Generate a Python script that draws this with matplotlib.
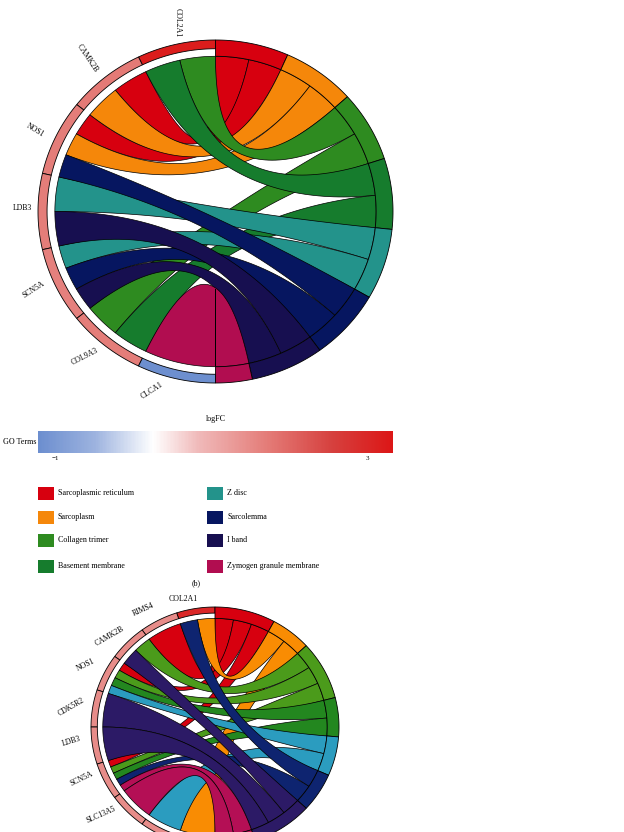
import numpy as np
import matplotlib
matplotlib.use("Agg")
import matplotlib.pyplot as plt
from matplotlib.patches import Polygon, Rectangle
from matplotlib.colors import LinearSegmentedColormap, Normalize
from matplotlib.cm import ScalarMappable

plt.rcParams['font.family'] = ['Liberation Serif', 'DejaVu Serif']

# ---- panel (b) data ----
genes_b = ['COL2A1', 'CAMK2B', 'NOS1', 'LDB3', 'SCN5A', 'COL9A3', 'CLCA1']
logfc_b = [3.2, 1.75, 1.7, 1.7, 1.65, 1.7, -1.2]
terms_b = ['Sarcoplasmic reticulum', 'Sarcoplasm', 'Collagen trimer', 'Basement membrane',
           'Z disc', 'Sarcolemma', 'I band', 'Zymogen granule membrane']
term_colors_b = ['#D7000F', '#F5870A', '#2E8B20', '#167C2D', '#23938B', '#061660', '#170F50', '#B10D50']
gene_terms_b = {
    'COL2A1': ['Collagen trimer', 'Basement membrane'],
    'CAMK2B': ['Sarcoplasmic reticulum', 'Sarcoplasm'],
    'NOS1': ['Sarcoplasmic reticulum', 'Sarcoplasm', 'Sarcolemma'],
    'LDB3': ['Z disc', 'I band'],
    'SCN5A': ['Z disc', 'Sarcolemma', 'I band'],
    'COL9A3': ['Collagen trimer', 'Basement membrane'],
    'CLCA1': ['Zymogen granule membrane'],
}

# ---- panel (c) data (lower chord, cut off at the page edge) ----
genes_c = ['COL2A1', 'RIMS4', 'CAMK2B', 'NOS1', 'CDK5R2', 'LDB3', 'SCN5A', 'SLC13A5', 'COL9A3', 'MYL4']
logfc_c = [3.0, 1.5, 1.5, 1.5, 1.5, 1.5, 1.5, 1.5, 1.5, 1.5]
terms_c = ['GO1', 'GO2', 'GO3', 'GO4', 'GO5', 'GO6', 'GO7', 'GO8']
term_colors_c = ['#D7000F', '#F98C03', '#4B9B1B', '#23871F', '#2B9CBF', '#0E2470', '#2C1A66', '#B40F55']
gene_terms_c = {
    'COL2A1': ['GO2', 'GO6'],
    'RIMS4': ['GO1'],
    'CAMK2B': ['GO3', 'GO7'],
    'NOS1': ['GO1', 'GO3', 'GO4', 'GO5'],
    'CDK5R2': ['GO7'],
    'LDB3': ['GO7'],
    'SCN5A': ['GO1', 'GO3', 'GO4', 'GO6', 'GO8'],
    'SLC13A5': ['GO8'],
    'COL9A3': ['GO5'],
    'MYL4': ['GO2'],
}

# logFC colour scale
lfc_min, lfc_max = -1.218, 3.333
cmap = LinearSegmentedColormap.from_list('lfc', [
    (0.0, '#6C8ECF'), (0.16, '#9DB3DF'), (0.324, '#FFFFFF'), (0.45, '#F0BABA'),
    (0.645, '#E47C78'), (0.83, '#D6403E'), (1.0, '#DC1616')])
norm = Normalize(lfc_min, lfc_max)

R_LINK = 0.905
R_RING = 0.949


def polar(theta, r):
    t = np.radians(theta)
    return np.column_stack([r * np.cos(t), r * np.sin(t)])


def arc(t0, t1, r, n=50):
    return polar(np.linspace(t0, t1, n), r)


def bezier(p0, p2, n=60):
    # quadratic curve with the control point at the centre
    t = np.linspace(0, 1, n)[:, None]
    return (1 - t) ** 2 * p0 + t ** 2 * p2


def wedge(ax, t0, t1, r0, r1, color):
    pts = np.vstack([arc(t0, t1, r1), arc(t1, t0, r0)])
    ax.add_patch(Polygon(pts, closed=True, facecolor=color, edgecolor='black', lw=0.6))


def draw_chord(ax, genes, logfc, terms, term_colors, gene_terms,
               lab_ang, lab_rad, lab_rot, fs=5.6):
    n_g = len(genes)
    G = 180.0 / n_g
    term_genes = {t: [g for g in genes if t in gene_terms[g]] for t in terms}
    total = sum(len(v) for v in term_genes.values())
    U = 180.0 / total

    term_top = {}
    cum = 0
    for t in terms:
        term_top[t] = 90 - cum * U
        cum += len(term_genes[t])

    # ribbons, drawn term by term
    for j, t in enumerate(terms):
        for k, g in enumerate(term_genes[t]):
            i = genes.index(g)
            gt = [x for x in terms if x in gene_terms[g]]
            m = len(gt)
            s = gt.index(t)
            a_up = 90 + i * G + s * G / m
            a_lo = a_up + G / m
            b_up = term_top[t] - k * U
            b_lo = b_up - U
            pa_lo = polar(a_lo, R_LINK)[0]
            pb_lo = polar(b_lo, R_LINK)[0]
            pb_up = polar(b_up, R_LINK)[0]
            pa_up = polar(a_up, R_LINK)[0]
            pts = np.vstack([arc(a_up, a_lo, R_LINK), bezier(pa_lo, pb_lo),
                             arc(b_lo, b_up, R_LINK), bezier(pb_up, pa_up)])
            ax.add_patch(Polygon(pts, closed=True, facecolor=term_colors[j],
                                 edgecolor='black', lw=0.5))

    # gene ring (coloured by logFC)
    for i, g in enumerate(genes):
        wedge(ax, 90 + i * G, 90 + (i + 1) * G, R_RING, 1.0, cmap(norm(logfc[i])))
    # term band
    for j, t in enumerate(terms):
        wedge(ax, term_top[t] - len(term_genes[t]) * U, term_top[t], R_LINK, 1.0, term_colors[j])

    for i, g in enumerate(genes):
        p = polar(lab_ang[i], lab_rad[i])[0]
        ax.text(p[0], p[1], g, rotation=lab_rot[i], ha='center', va='center',
                fontsize=fs, rotation_mode='anchor', clip_on=False)


W, H = 624, 832
fig = plt.figure(figsize=(W / 100, H / 100), dpi=100)

# upper chord: centre (215.5, 211.5) px, radii 177.5 x 171.5 px
ax_b = fig.add_axes([0, 1 - 423 / H, 431 / W, 423 / H])
ax_b.set_xlim(-215.5 / 177.5, 215.5 / 177.5)
ax_b.set_ylim(-211.5 / 171.5, 211.5 / 171.5)
ax_b.axis('off')
draw_chord(ax_b, genes_b, logfc_b, terms_b, term_colors_b, gene_terms_b,
           lab_ang=[101, 129, 155, 179, 204, 229, 251],
           lab_rad=[1.125, 1.15, 1.12, 1.09, 1.12, 1.12, 1.105],
           lab_rot=[-90, -56, -31, 0, 33, 27, 33])

# lower chord: centre (215, 727) px, radii 124 x 120 px
ax_c = fig.add_axes([0, 1 - 864 / H, 430 / W, 274 / H])
ax_c.set_xlim(-215 / 124, 215 / 124)
ax_c.set_ylim(-137 / 120, 137 / 120)
ax_c.axis('off')
draw_chord(ax_c, genes_c, logfc_c, terms_c, term_colors_c, gene_terms_c,
           lab_ang=[103.5, 120.6, 138.2, 153.6, 171.8, 185.8, 201.8, 218.6, 234, 262],
           lab_rad=[1.10, 1.14, 1.14, 1.16, 1.17, 1.16, 1.16, 1.175, 1.17, 1.25],
           lab_rot=[0, 24, 30, 26, 30, 17, 26, 24, 25, 25])

# colour bar
cax = fig.add_axes([38 / W, 1 - 453 / H, 355 / W, 22 / H])
cb = fig.colorbar(ScalarMappable(norm=norm, cmap=cmap), cax=cax,
                  orientation='horizontal', ticks=[-1, 3])
cb.outline.set_visible(False)
cax.tick_params(length=0, pad=2, labelsize=5)
fig.text(216 / W, 1 - 419 / H, 'logFC', ha='center', va='center', fontsize=5.8)
fig.text(36 / W, 1 - 442 / H, 'GO Terms', ha='right', va='center', fontsize=5.8)

# legend of GO terms, two columns
ax_l = fig.add_axes([0, 0, 1, 1])
ax_l.set_xlim(0, W)
ax_l.set_ylim(H, 0)
ax_l.axis('off')
ax_l.patch.set_visible(False)
col_x = [38, 207]
row_y = [493, 517, 540.5, 566.5]
for j, t in enumerate(terms_b):
    x = col_x[j // 4]
    y = row_y[j % 4]
    ax_l.add_patch(Rectangle((x, y - 6.5), 16, 13, facecolor=term_colors_b[j], edgecolor='none'))
    ax_l.text(x + 20, y, t, ha='left', va='center', fontsize=5.8)

fig.text(196 / W, 1 - 583 / H, '(b)', ha='center', va='center', fontsize=5.8)

fig.savefig('out.png', dpi=100)
